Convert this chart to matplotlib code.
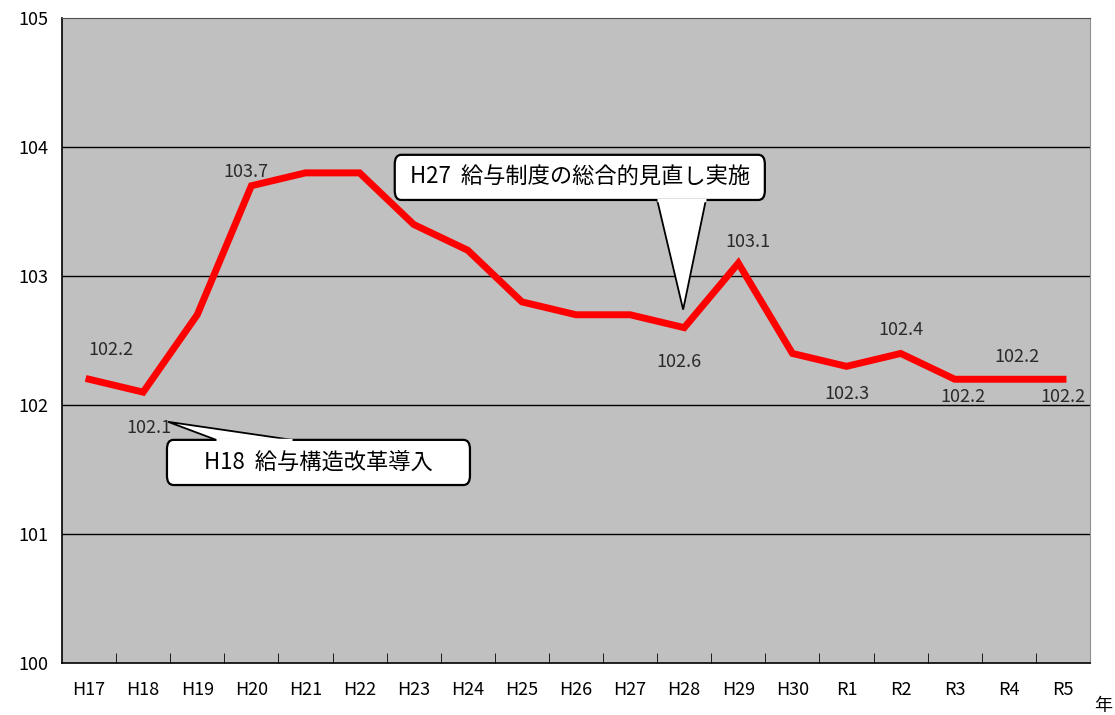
import matplotlib
matplotlib.use("Agg")
import matplotlib.pyplot as plt
from matplotlib.patches import FancyBboxPatch, Polygon
import numpy as np

plt.rcParams["font.family"] = ["Noto Sans CJK JP", "DejaVu Sans"]

# data
years = ["H17", "H18", "H19", "H20", "H21", "H22", "H23", "H24", "H25", "H26",
         "H27", "H28", "H29", "H30", "R1", "R2", "R3", "R4", "R5"]
values = [102.2, 102.1, 102.7, 103.7, 103.8, 103.8, 103.4, 103.2, 102.8, 102.7,
          102.7, 102.6, 103.1, 102.4, 102.3, 102.4, 102.2, 102.2, 102.2]
labelled_idx = [0, 1, 3, 11, 12, 14, 15, 16, 17, 18]
callout_texts = ["H27  給与制度の総合的見直し実施", "H18  給与構造改革導入"]
callout_idx = [11, 1]

# label offsets in points (dx, dy), styling only
label_off = {0: (16, 21), 1: (4, -26), 3: (-4, 10), 11: (-4, -25), 12: (7, 15),
             14: (0, -20), 15: (0, 17), 16: (6, -13), 17: (6, 16), 18: (0, -13)}

x = np.arange(len(years))

fig = plt.figure(figsize=(11.15, 7.15), dpi=100)
ax = fig.add_axes([0.0556, 0.0727, 0.922, 0.902])
ax.set_facecolor("#c0c0c0")

ax.plot(x, values, color="#ff0000", lw=5, solid_joinstyle="miter", zorder=3)

ax.set_xlim(-0.5, len(years) - 0.5)
ax.set_ylim(100, 105)
ax.set_yticks([100, 101, 102, 103, 104, 105])
ax.set_yticklabels(["100", "101", "102", "103", "104", "105"], fontsize=13)
ax.tick_params(axis="y", length=0, pad=10)
ax.set_xticks(x)
ax.set_xticklabels(years, fontsize=13)
ax.tick_params(axis="x", which="major", length=0, pad=13)
ax.set_xticks(np.arange(0.5, len(years) - 1, 1), minor=True)
ax.tick_params(axis="x", which="minor", direction="in", length=7, color="black")
for yv in [101, 102, 103, 104]:
    ax.axhline(yv, color="black", lw=1, zorder=1)

for s in ["left", "bottom"]:
    ax.spines[s].set_color("black")
    ax.spines[s].set_linewidth(1.2)
ax.spines["top"].set_color("#505050")
ax.spines["right"].set_color("#909090")

for i in labelled_idx:
    dx, dy = label_off[i]
    ax.annotate(f"{values[i]:.1f}", (x[i], values[i]), xytext=(dx, dy),
                textcoords="offset points", ha="center", va="center",
                fontsize=13, color="#2a2a2a", zorder=4)


def callout(text, box, wedge, fs):
    x0, y0, x1, y1 = box
    p = FancyBboxPatch((x0, y0), x1 - x0, y1 - y0,
                       boxstyle="round,pad=0,rounding_size=0.12",
                       mutation_aspect=0.6, fc="white", ec="black", lw=1.6,
                       zorder=5)
    ax.add_patch(p)
    w = Polygon(wedge, closed=True, fc="white", ec="black", lw=1.3, zorder=5.5)
    ax.add_patch(w)
    # cover the box edge where the wedge joins
    (ax0, ay0), (ax1, ay1) = wedge[0], wedge[1]
    ax.plot([ax0, ax1], [ay0, ay1], color="white", lw=2.5, zorder=5.6,
            solid_capstyle="butt")
    ax.text((x0 + x1) / 2, (y0 + y1) / 2, text, ha="center", va="center",
            fontsize=fs, zorder=6)


# H27 callout, pointing at H28
i = callout_idx[0]
callout(callout_texts[0],
        (x[i] - 5.35, 103.59, x[i] + 1.49, 103.94),
        [(x[i] - 0.5, 103.59), (x[i] + 0.4, 103.59), (x[i] - 0.02, values[i] + 0.14)],
        16)

# H18 callout, pointing at the 102.1 label
i = callout_idx[1]
callout(callout_texts[1],
        (x[i] + 0.44, 101.38, x[i] + 6.04, 101.73),
        [(x[i] + 1.35, 101.73), (x[i] + 2.75, 101.73), (x[i] + 0.46, 101.87)],
        16)

fig.text(0.989, 0.0, "年", fontsize=13, ha="center", va="bottom")

fig.savefig("out.png", dpi=100)
